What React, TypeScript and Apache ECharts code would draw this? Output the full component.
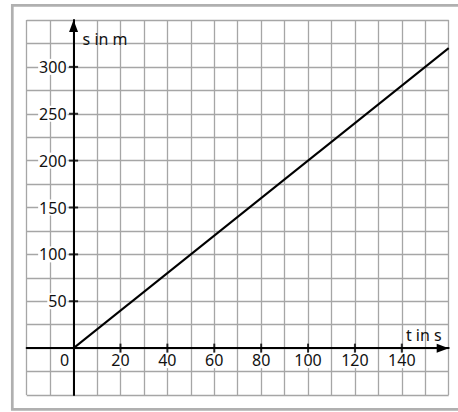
import React, { useEffect, useRef } from "react";
import * as echarts from "echarts";

// Data
const tValues = [0, 160];
const sValues = [0, 320];
const xLabelValues = [0, 20, 40, 60, 80, 100, 120, 140];
const yLabelValues = [50, 100, 150, 200, 250, 300];
const xTickValues = [20, 40, 60, 80, 100, 120, 140];
const yTickValues = [50, 100, 150, 200, 250, 300];
const xName = "t in s";
const yName = "s in m";

const FONT = "Noto Sans";
const FS = 16;
const TEXT = "#111";
const GRIDC = "#a6a6a6";

const GL = 26.7;
const GR = 9.3;
const GT = 20;
const GB = 17;
const W = 458;
const H = 412;
const X_MIN = -20, X_MAX = 160, Y_MIN = -50, Y_MAX = 350;
const zeroX = GL + ((0 - X_MIN) / (X_MAX - X_MIN)) * (W - GL - GR);
const zeroY = GT + ((Y_MAX - 0) / (Y_MAX - Y_MIN)) * (H - GT - GB);

export default function App() {
  const ref = useRef<HTMLDivElement>(null);
  useEffect(() => {
    if (!ref.current) return;
    const chart = echarts.init(ref.current, undefined, { renderer: "svg" });
    const axisLineCommon = {
      show: true,
      onZero: false,
      symbol: ["none", "triangle"],
      symbolSize: [9, 12],
      symbolOffset: [0, -6],
      lineStyle: { color: "#000", width: 2 },
    };
    chart.setOption({
      animation: false,
      backgroundColor: "#fff",
      textStyle: { fontFamily: FONT },
      graphic: [
        {
          type: "rect",
          shape: { x: 12.3, y: 5.3, width: 460, height: 404 },
          style: { fill: "none", stroke: "#b0b0b0", lineWidth: 2.7 },
          z: 100,
        },
      ],
      grid: {
        left: GL,
        right: GR,
        top: GT,
        bottom: GB,
        containLabel: false,
        outerBoundsMode: "none",
      },
      xAxis: {
        type: "value",
        min: X_MIN,
        max: X_MAX,
        interval: 10,
        position: "bottom",
        offset: -(H - GB - zeroY),
        name: xName,
        nameLocation: "end",
        nameGap: -7,
        nameTextStyle: {
          fontFamily: FONT,
          fontSize: FS,
          color: TEXT,
          align: "right",
          verticalAlign: "bottom",
          padding: [0, 0, 5, 0],
        },
        axisLine: axisLineCommon,
        axisTick: { show: false },
        axisLabel: {
          customValues: xLabelValues,
          margin: 4,
          fontFamily: FONT,
          fontSize: FS,
          color: TEXT,
          formatter: (v: number) => (v === 0 ? "{z|0}{g| }" : "{a|" + v + "}"),
          rich: {
            z: { fontFamily: FONT, fontSize: FS, color: TEXT },
            g: { width: 18, fontSize: FS },
            a: { fontFamily: FONT, fontSize: FS, color: TEXT, backgroundColor: "#fff", padding: [0, 1] },
          },
        },
        splitLine: { show: true, lineStyle: { color: GRIDC, width: 1.3 } },
      },
      yAxis: {
        type: "value",
        min: Y_MIN,
        max: Y_MAX,
        interval: 25,
        position: "left",
        offset: -(zeroX - GL),
        name: yName,
        nameLocation: "end",
        nameGap: -19,
        nameTextStyle: {
          fontFamily: FONT,
          fontSize: FS,
          color: TEXT,
          align: "left",
          verticalAlign: "middle",
          padding: [0, 0, 0, 9],
        },
        axisLine: axisLineCommon,
        axisTick: { show: false },
        axisLabel: {
          customValues: yLabelValues,
          margin: 6,
          fontFamily: FONT,
          fontSize: FS,
          color: TEXT,
          backgroundColor: "#fff",
          padding: [0, 1],
        },
        splitLine: { show: true, lineStyle: { color: GRIDC, width: 1.3 } },
      },
      series: [
        {
          type: "line",
          data: tValues.map((t, i) => [t, sValues[i]]),
          symbol: "none",
          lineStyle: { color: "#000", width: 2 },
          z: 5,
        },
        {
          type: "scatter",
          data: yTickValues.map((v) => [0, v]),
          symbol: "rect",
          symbolSize: [9, 2],
          itemStyle: { color: "#000" },
          silent: true,
          z: 6,
        },
        {
          type: "scatter",
          data: xTickValues.map((v) => [v, 0]),
          symbol: "rect",
          symbolSize: [2, 9],
          itemStyle: { color: "#000" },
          silent: true,
          z: 6,
        },
      ],
    });
    return () => chart.dispose();
  }, []);
  return (
    <div
      ref={ref}
      style={{ position: "absolute", left: 0, top: 0, width: W, height: H }}
    />
  );
}
